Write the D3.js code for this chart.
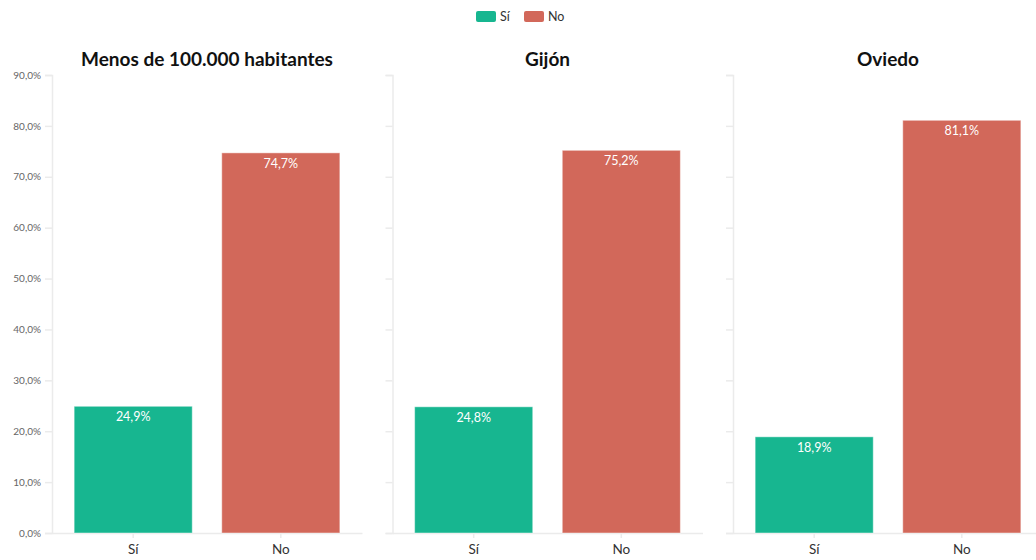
<!DOCTYPE html>
<html><head><meta charset="utf-8">
<script src="https://cdn.jsdelivr.net/npm/d3@7"></script>
<style>
body{margin:0;background:#fff;}
text{font-family:Lato,"Noto Sans",sans-serif;}
</style></head>
<body><svg id="c" width="1036" height="560"></svg>
<script>
const panels = ["Menos de 100.000 habitantes", "Gijón", "Oviedo"];
const categories = ["Sí", "No"];
const siValues = [24.9, 24.8, 18.9];
const noValues = [74.7, 75.2, 81.1];
const yTicks = [0, 10, 20, 30, 40, 50, 60, 70, 80, 90];
const colors = {"Sí": "#17b690", "No": "#d2685a"};

const svg = d3.select("#c");
const fmt = v => d3.format(".1f")(v).replace(".", ",") + "%";
const y = d3.scaleLinear().domain([0, 90]).range([533, 75]);
const panelX = [52, 392.5, 733];
const pw = 310;

panels.forEach((name, i) => {
  const g = svg.append("g").attr("transform", `translate(${panelX[i]},0)`);
  const x = d3.scaleBand().domain(categories).range([0, pw]).paddingInner(0.2).paddingOuter(0.15);
  const vals = {"Sí": siValues[i], "No": noValues[i]};

  // y axis
  const ya = g.append("g").call(d3.axisLeft(y).tickValues(yTicks).tickSize(7).tickPadding(4)
     .tickFormat(i === 0 ? (d => fmt(d)) : () => ""));
  ya.select(".domain").attr("stroke", "#ebebeb").attr("stroke-width", 1.5);
  ya.selectAll(".tick line").attr("stroke", "#ebebeb").attr("stroke-width", 1.5);
  ya.selectAll(".tick text").attr("fill", "#666").style("font-size", "10px");

  // x axis
  const xa = g.append("g").attr("transform", `translate(0,${y(0)})`)
    .call(d3.axisBottom(x).tickSize(5).tickPadding(6).tickSizeOuter(0));
  xa.select(".domain").attr("stroke", "#ebebeb").attr("stroke-width", 1.5);
  xa.selectAll(".tick line").attr("stroke", "#ebebeb").attr("stroke-width", 1.5);
  xa.selectAll(".tick text").attr("fill", "#333").style("font-size", "13.5px");

  // bars
  g.selectAll("rect.bar").data(categories).join("rect")
    .attr("class", "bar")
    .attr("x", d => x(d)).attr("width", x.bandwidth())
    .attr("y", d => y(vals[d])).attr("height", d => y(0) - y(vals[d]))
    .attr("fill", d => colors[d])
    .attr("stroke", "rgba(255,255,255,0.45)").attr("stroke-width", 1);

  g.selectAll("text.val").data(categories).join("text")
    .attr("class", "val")
    .attr("x", d => x(d) + x.bandwidth() / 2)
    .attr("y", d => y(vals[d]) + 15)
    .attr("text-anchor", "middle")
    .attr("fill", "#fff").style("font-size", "12.5px")
    .text(d => fmt(vals[d]));

  g.append("text").attr("x", pw / 2).attr("y", 66)
    .attr("text-anchor", "middle").attr("fill", "#111")
    .style("font-size", "19px").style("font-weight", "bold")
    .text(name);
});

// legend
const lg = svg.append("g");
const legendX = [476, 524];
categories.forEach((c, i) => {
  lg.append("rect").attr("x", legendX[i]).attr("y", 11).attr("width", 20).attr("height", 11)
    .attr("rx", 2).attr("fill", colors[c]);
  lg.append("text").attr("x", legendX[i] + 24).attr("y", 21).attr("fill", "#333")
    .style("font-size", "12.5px").text(c);
});
</script></body></html>
